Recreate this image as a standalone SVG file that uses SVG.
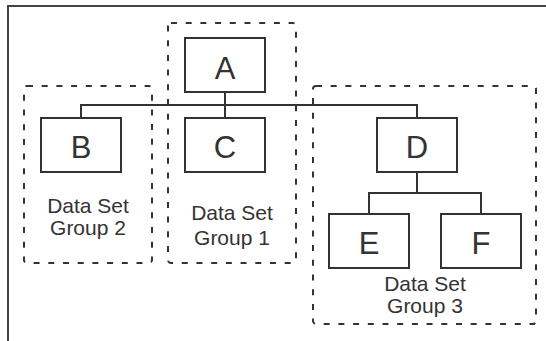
<svg xmlns="http://www.w3.org/2000/svg" width="546" height="341" viewBox="0 0 546 341">
<style>
.node{fill:#fff;stroke:#333;stroke-width:2}
.lbl{font-family:"Liberation Sans",Arial,sans-serif;font-size:31px;fill:#333;text-anchor:middle}
.grp{fill:none;stroke:#333;stroke-width:2;stroke-dasharray:6 8.7}
.gl{font-family:"Liberation Sans",Arial,sans-serif;font-size:21px;fill:#333;text-anchor:middle}
.conn{fill:none;stroke:#333;stroke-width:2}
</style>
<rect width="546" height="341" fill="#fff"/>
<path d="M8 341 V6 H546" fill="none" stroke="#444" stroke-width="2"/>
<g id="groups">
<rect id="group1" class="grp" x="168" y="23" width="128" height="240" rx="3"/>
<rect id="group2" class="grp" x="24" y="86" width="128" height="177" rx="3"/>
<rect id="group3" class="grp" x="313" y="86" width="223" height="238" rx="3"/>
</g>
<g id="connectors" class="conn">
<path d="M225 92 V105"/>
<path d="M81 118 V105 H417 V118"/>
<path d="M225 105 V118"/>
<path d="M417 172 V193"/>
<path d="M369 214 V193 H481 V214"/>
</g>
<g id="A"><rect class="node" x="185" y="38" width="80" height="54"/><text class="lbl" x="225" y="79">A</text></g>
<g id="B"><rect class="node" x="41" y="118" width="80" height="54"/><text class="lbl" x="81" y="158">B</text></g>
<g id="C"><rect class="node" x="185" y="118" width="80" height="54"/><text class="lbl" x="225" y="158">C</text></g>
<g id="D"><rect class="node" x="377" y="118" width="80" height="54"/><text class="lbl" x="417" y="158">D</text></g>
<g id="E"><rect class="node" x="329" y="214" width="80" height="54"/><text class="lbl" x="369" y="254">E</text></g>
<g id="F"><rect class="node" x="441" y="214" width="80" height="54"/><text class="lbl" x="481" y="254">F</text></g>
<g id="labels">
<text class="gl" x="88" y="213">Data Set</text>
<text class="gl" x="88" y="235">Group 2</text>
<text class="gl" x="232" y="220">Data Set</text>
<text class="gl" x="232" y="245">Group 1</text>
<text class="gl" x="425" y="291">Data Set</text>
<text class="gl" x="425" y="313">Group 3</text>
</g>
</svg>
